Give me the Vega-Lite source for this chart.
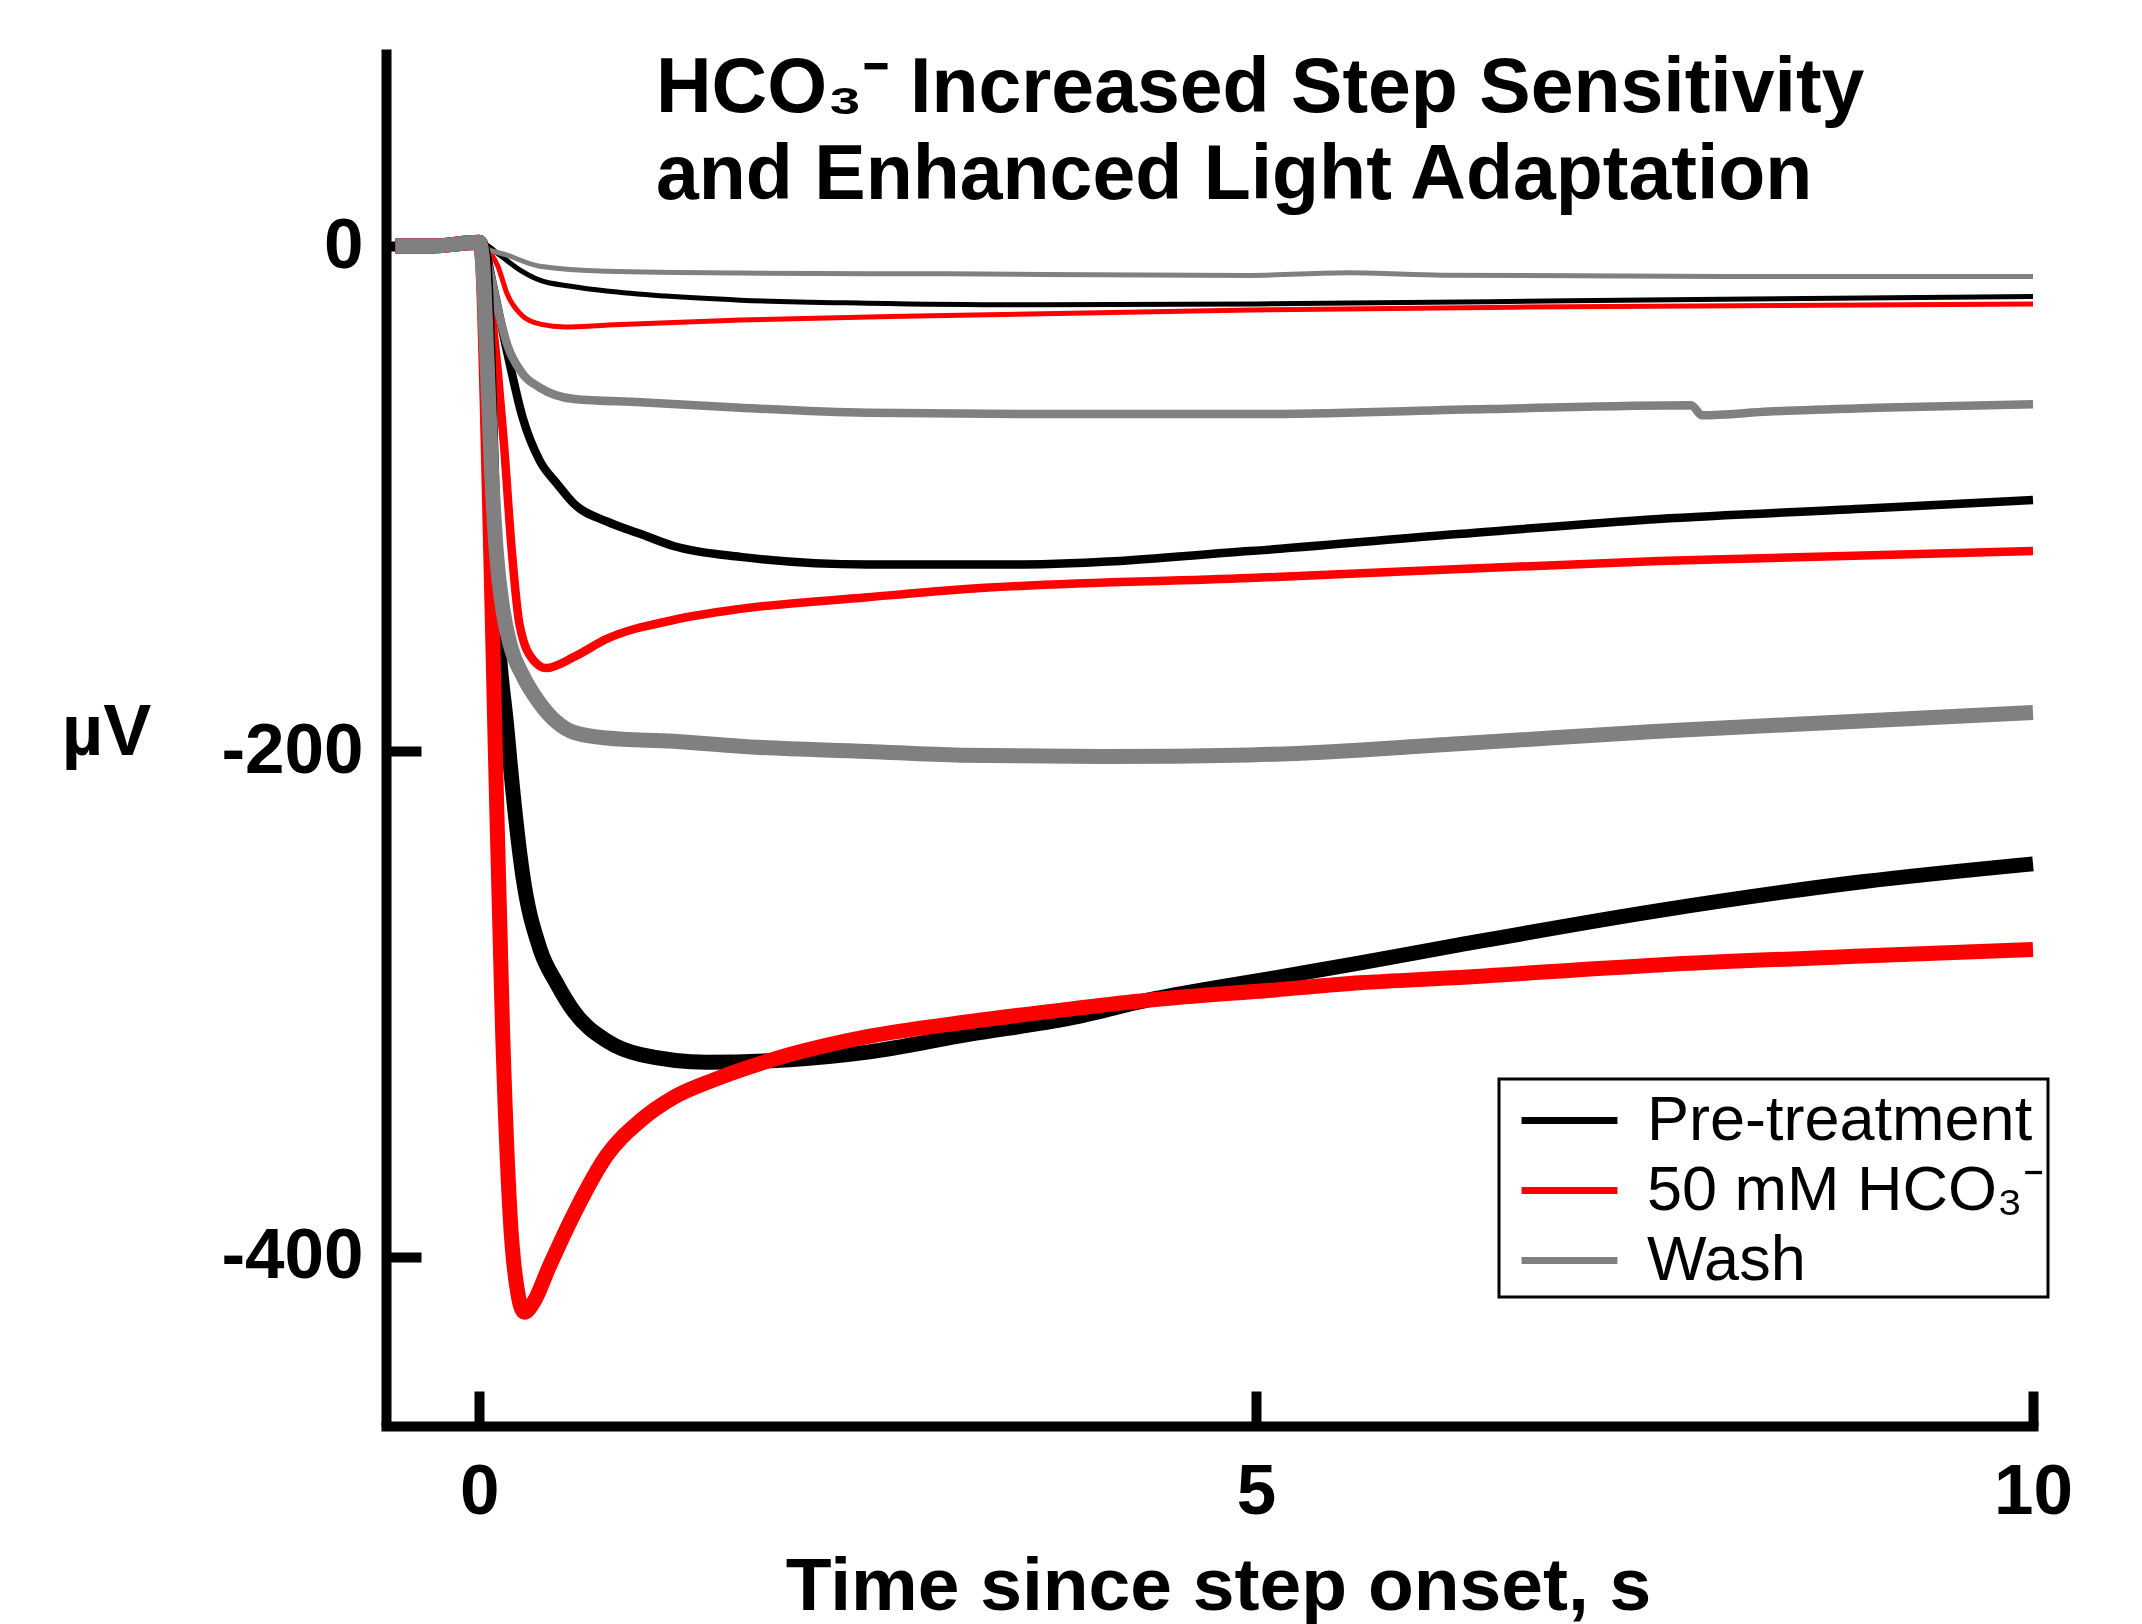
{
  "$schema": "https://vega.github.io/schema/vega-lite/v6.json",
  "autosize": {"type": "none"},
  "width": 1647,
  "height": 1377,
  "padding": {"left": 386, "top": 49, "right": 109, "bottom": 198},
  "background": "white",
  "config": {
    "view": {"stroke": null},
    "font": "Liberation Sans",
    "axis": {
      "grid": false,
      "domainColor": "black",
      "domainWidth": 10,
      "tickColor": "black",
      "tickWidth": 10,
      "tickSize": -35,
      "labelFont": "Liberation Sans",
      "labelFontSize": 71,
      "labelFontWeight": "bold",
      "labelColor": "black",
      "titleFont": "Liberation Sans",
      "titleFontWeight": "bold",
      "titleColor": "black"
    }
  },
  "title": {
    "text": ["HCO₃⁻ Increased Step Sensitivity", "and Enhanced Light Adaptation"],
    "anchor": "start",
    "frame": "group",
    "orient": "top",
    "align": "left",
    "baseline": "top",
    "offset": 0,
    "dx": 270,
    "dy": 166,
    "fontSize": 77,
    "lineHeight": 87,
    "font": "Liberation Sans",
    "fontWeight": "bold",
    "color": "black"
  },
  "data": {
    "values": [
      {"c": "Pre-treatment", "l": "dim", "t": -0.54, "v": 0},
      {"c": "Pre-treatment", "l": "dim", "t": -0.3, "v": 0},
      {"c": "Pre-treatment", "l": "dim", "t": -0.02, "v": 0.5},
      {"c": "Pre-treatment", "l": "dim", "t": 0.02, "v": 1},
      {"c": "Pre-treatment", "l": "dim", "t": 0.12, "v": -3},
      {"c": "Pre-treatment", "l": "dim", "t": 0.25, "v": -9},
      {"c": "Pre-treatment", "l": "dim", "t": 0.39, "v": -13.5},
      {"c": "Pre-treatment", "l": "dim", "t": 0.6, "v": -16},
      {"c": "Pre-treatment", "l": "dim", "t": 0.82, "v": -17.8},
      {"c": "Pre-treatment", "l": "dim", "t": 1.2, "v": -19.8},
      {"c": "Pre-treatment", "l": "dim", "t": 1.68, "v": -21.4},
      {"c": "Pre-treatment", "l": "dim", "t": 2.5, "v": -22.6},
      {"c": "Pre-treatment", "l": "dim", "t": 3.5, "v": -23.2},
      {"c": "Pre-treatment", "l": "dim", "t": 5, "v": -22.9},
      {"c": "Pre-treatment", "l": "dim", "t": 6.5, "v": -22},
      {"c": "Pre-treatment", "l": "dim", "t": 8, "v": -21},
      {"c": "Pre-treatment", "l": "dim", "t": 10, "v": -20},

      {"c": "Pre-treatment", "l": "mid", "t": -0.54, "v": 0},
      {"c": "Pre-treatment", "l": "mid", "t": -0.3, "v": 0},
      {"c": "Pre-treatment", "l": "mid", "t": 0, "v": 1},
      {"c": "Pre-treatment", "l": "mid", "t": 0.04, "v": -2},
      {"c": "Pre-treatment", "l": "mid", "t": 0.09, "v": -16},
      {"c": "Pre-treatment", "l": "mid", "t": 0.18, "v": -42},
      {"c": "Pre-treatment", "l": "mid", "t": 0.28, "v": -68},
      {"c": "Pre-treatment", "l": "mid", "t": 0.39, "v": -85},
      {"c": "Pre-treatment", "l": "mid", "t": 0.5, "v": -94},
      {"c": "Pre-treatment", "l": "mid", "t": 0.61, "v": -102},
      {"c": "Pre-treatment", "l": "mid", "t": 0.82, "v": -109},
      {"c": "Pre-treatment", "l": "mid", "t": 1.04, "v": -114},
      {"c": "Pre-treatment", "l": "mid", "t": 1.25, "v": -118.7},
      {"c": "Pre-treatment", "l": "mid", "t": 1.68, "v": -123},
      {"c": "Pre-treatment", "l": "mid", "t": 2.5, "v": -126},
      {"c": "Pre-treatment", "l": "mid", "t": 3.5, "v": -126},
      {"c": "Pre-treatment", "l": "mid", "t": 4.96, "v": -120.7},
      {"c": "Pre-treatment", "l": "mid", "t": 6.3, "v": -114},
      {"c": "Pre-treatment", "l": "mid", "t": 7.59, "v": -108},
      {"c": "Pre-treatment", "l": "mid", "t": 8.9, "v": -104},
      {"c": "Pre-treatment", "l": "mid", "t": 10, "v": -100.5},

      {"c": "Pre-treatment", "l": "bright", "t": -0.54, "v": 0},
      {"c": "Pre-treatment", "l": "bright", "t": -0.3, "v": 0},
      {"c": "Pre-treatment", "l": "bright", "t": 0, "v": 1.5},
      {"c": "Pre-treatment", "l": "bright", "t": 0.03, "v": -5},
      {"c": "Pre-treatment", "l": "bright", "t": 0.06, "v": -50},
      {"c": "Pre-treatment", "l": "bright", "t": 0.1, "v": -130},
      {"c": "Pre-treatment", "l": "bright", "t": 0.18, "v": -192},
      {"c": "Pre-treatment", "l": "bright", "t": 0.28, "v": -249},
      {"c": "Pre-treatment", "l": "bright", "t": 0.39, "v": -278},
      {"c": "Pre-treatment", "l": "bright", "t": 0.5, "v": -292},
      {"c": "Pre-treatment", "l": "bright", "t": 0.61, "v": -303},
      {"c": "Pre-treatment", "l": "bright", "t": 0.82, "v": -314.5},
      {"c": "Pre-treatment", "l": "bright", "t": 1.04, "v": -320},
      {"c": "Pre-treatment", "l": "bright", "t": 1.47, "v": -323},
      {"c": "Pre-treatment", "l": "bright", "t": 2.0, "v": -322},
      {"c": "Pre-treatment", "l": "bright", "t": 2.5, "v": -319},
      {"c": "Pre-treatment", "l": "bright", "t": 3.15, "v": -312},
      {"c": "Pre-treatment", "l": "bright", "t": 3.8, "v": -305.6},
      {"c": "Pre-treatment", "l": "bright", "t": 4.3, "v": -298.5},
      {"c": "Pre-treatment", "l": "bright", "t": 5.12, "v": -289.6},
      {"c": "Pre-treatment", "l": "bright", "t": 5.67, "v": -283.7},
      {"c": "Pre-treatment", "l": "bright", "t": 6.27, "v": -277},
      {"c": "Pre-treatment", "l": "bright", "t": 7.59, "v": -263},
      {"c": "Pre-treatment", "l": "bright", "t": 8.9, "v": -251.6},
      {"c": "Pre-treatment", "l": "bright", "t": 10, "v": -244.5},

      {"c": "50 mM HCO₃⁻", "l": "dim", "t": -0.54, "v": 0},
      {"c": "50 mM HCO₃⁻", "l": "dim", "t": -0.3, "v": 0},
      {"c": "50 mM HCO₃⁻", "l": "dim", "t": 0, "v": 1.5},
      {"c": "50 mM HCO₃⁻", "l": "dim", "t": 0.05, "v": -1},
      {"c": "50 mM HCO₃⁻", "l": "dim", "t": 0.12, "v": -8},
      {"c": "50 mM HCO₃⁻", "l": "dim", "t": 0.18, "v": -19},
      {"c": "50 mM HCO₃⁻", "l": "dim", "t": 0.28, "v": -27.7},
      {"c": "50 mM HCO₃⁻", "l": "dim", "t": 0.4, "v": -31},
      {"c": "50 mM HCO₃⁻", "l": "dim", "t": 0.55, "v": -32},
      {"c": "50 mM HCO₃⁻", "l": "dim", "t": 0.82, "v": -31.3},
      {"c": "50 mM HCO₃⁻", "l": "dim", "t": 1.68, "v": -29.3},
      {"c": "50 mM HCO₃⁻", "l": "dim", "t": 3, "v": -27.5},
      {"c": "50 mM HCO₃⁻", "l": "dim", "t": 4.96, "v": -25.3},
      {"c": "50 mM HCO₃⁻", "l": "dim", "t": 7, "v": -24},
      {"c": "50 mM HCO₃⁻", "l": "dim", "t": 10, "v": -22.9},

      {"c": "50 mM HCO₃⁻", "l": "mid", "t": -0.54, "v": 0},
      {"c": "50 mM HCO₃⁻", "l": "mid", "t": -0.3, "v": 0},
      {"c": "50 mM HCO₃⁻", "l": "mid", "t": 0, "v": 1.5},
      {"c": "50 mM HCO₃⁻", "l": "mid", "t": 0.03, "v": -2},
      {"c": "50 mM HCO₃⁻", "l": "mid", "t": 0.07, "v": -22},
      {"c": "50 mM HCO₃⁻", "l": "mid", "t": 0.12, "v": -50},
      {"c": "50 mM HCO₃⁻", "l": "mid", "t": 0.16, "v": -79},
      {"c": "50 mM HCO₃⁻", "l": "mid", "t": 0.21, "v": -121},
      {"c": "50 mM HCO₃⁻", "l": "mid", "t": 0.26, "v": -150},
      {"c": "50 mM HCO₃⁻", "l": "mid", "t": 0.35, "v": -164},
      {"c": "50 mM HCO₃⁻", "l": "mid", "t": 0.43, "v": -167},
      {"c": "50 mM HCO₃⁻", "l": "mid", "t": 0.61, "v": -162.6},
      {"c": "50 mM HCO₃⁻", "l": "mid", "t": 0.82, "v": -155.5},
      {"c": "50 mM HCO₃⁻", "l": "mid", "t": 1.25, "v": -148},
      {"c": "50 mM HCO₃⁻", "l": "mid", "t": 1.68, "v": -143.6},
      {"c": "50 mM HCO₃⁻", "l": "mid", "t": 2.5, "v": -139},
      {"c": "50 mM HCO₃⁻", "l": "mid", "t": 3.07, "v": -136},
      {"c": "50 mM HCO₃⁻", "l": "mid", "t": 4.96, "v": -131.4},
      {"c": "50 mM HCO₃⁻", "l": "mid", "t": 7.59, "v": -124.6},
      {"c": "50 mM HCO₃⁻", "l": "mid", "t": 10, "v": -120.7},

      {"c": "50 mM HCO₃⁻", "l": "bright", "t": -0.54, "v": 0},
      {"c": "50 mM HCO₃⁻", "l": "bright", "t": -0.3, "v": 0},
      {"c": "50 mM HCO₃⁻", "l": "bright", "t": 0, "v": 1.5},
      {"c": "50 mM HCO₃⁻", "l": "bright", "t": 0.02, "v": -5},
      {"c": "50 mM HCO₃⁻", "l": "bright", "t": 0.05, "v": -60},
      {"c": "50 mM HCO₃⁻", "l": "bright", "t": 0.1, "v": -190},
      {"c": "50 mM HCO₃⁻", "l": "bright", "t": 0.15, "v": -310},
      {"c": "50 mM HCO₃⁻", "l": "bright", "t": 0.2, "v": -385},
      {"c": "50 mM HCO₃⁻", "l": "bright", "t": 0.25, "v": -415},
      {"c": "50 mM HCO₃⁻", "l": "bright", "t": 0.29, "v": -422},
      {"c": "50 mM HCO₃⁻", "l": "bright", "t": 0.35, "v": -418},
      {"c": "50 mM HCO₃⁻", "l": "bright", "t": 0.45, "v": -404},
      {"c": "50 mM HCO₃⁻", "l": "bright", "t": 0.61, "v": -383},
      {"c": "50 mM HCO₃⁻", "l": "bright", "t": 0.82, "v": -360},
      {"c": "50 mM HCO₃⁻", "l": "bright", "t": 1.04, "v": -346},
      {"c": "50 mM HCO₃⁻", "l": "bright", "t": 1.25, "v": -337},
      {"c": "50 mM HCO₃⁻", "l": "bright", "t": 1.51, "v": -330},
      {"c": "50 mM HCO₃⁻", "l": "bright", "t": 2.0, "v": -320},
      {"c": "50 mM HCO₃⁻", "l": "bright", "t": 2.49, "v": -313},
      {"c": "50 mM HCO₃⁻", "l": "bright", "t": 3.15, "v": -307},
      {"c": "50 mM HCO₃⁻", "l": "bright", "t": 3.8, "v": -302},
      {"c": "50 mM HCO₃⁻", "l": "bright", "t": 4.3, "v": -298.5},
      {"c": "50 mM HCO₃⁻", "l": "bright", "t": 5.12, "v": -294.4},
      {"c": "50 mM HCO₃⁻", "l": "bright", "t": 5.67, "v": -291.6},
      {"c": "50 mM HCO₃⁻", "l": "bright", "t": 6.27, "v": -289.6},
      {"c": "50 mM HCO₃⁻", "l": "bright", "t": 7.59, "v": -284.5},
      {"c": "50 mM HCO₃⁻", "l": "bright", "t": 8.9, "v": -281},
      {"c": "50 mM HCO₃⁻", "l": "bright", "t": 10, "v": -278.4},

      {"c": "Wash", "l": "dim", "t": -0.54, "v": 0},
      {"c": "Wash", "l": "dim", "t": -0.3, "v": 0},
      {"c": "Wash", "l": "dim", "t": 0, "v": 1},
      {"c": "Wash", "l": "dim", "t": 0.05, "v": -1},
      {"c": "Wash", "l": "dim", "t": 0.18, "v": -3.6},
      {"c": "Wash", "l": "dim", "t": 0.39, "v": -8},
      {"c": "Wash", "l": "dim", "t": 0.82, "v": -10},
      {"c": "Wash", "l": "dim", "t": 1.68, "v": -10.7},
      {"c": "Wash", "l": "dim", "t": 3, "v": -11},
      {"c": "Wash", "l": "dim", "t": 4.96, "v": -11.6},
      {"c": "Wash", "l": "dim", "t": 5.6, "v": -10.6},
      {"c": "Wash", "l": "dim", "t": 6.2, "v": -11.5},
      {"c": "Wash", "l": "dim", "t": 8, "v": -12},
      {"c": "Wash", "l": "dim", "t": 10, "v": -12},

      {"c": "Wash", "l": "mid", "t": -0.54, "v": 0},
      {"c": "Wash", "l": "mid", "t": -0.3, "v": 0},
      {"c": "Wash", "l": "mid", "t": 0, "v": 1},
      {"c": "Wash", "l": "mid", "t": 0.03, "v": -2},
      {"c": "Wash", "l": "mid", "t": 0.07, "v": -10.7},
      {"c": "Wash", "l": "mid", "t": 0.12, "v": -25},
      {"c": "Wash", "l": "mid", "t": 0.18, "v": -39},
      {"c": "Wash", "l": "mid", "t": 0.28, "v": -50.6},
      {"c": "Wash", "l": "mid", "t": 0.39, "v": -56},
      {"c": "Wash", "l": "mid", "t": 0.61, "v": -60.5},
      {"c": "Wash", "l": "mid", "t": 1.04, "v": -61.8},
      {"c": "Wash", "l": "mid", "t": 1.68, "v": -64},
      {"c": "Wash", "l": "mid", "t": 2.5, "v": -66},
      {"c": "Wash", "l": "mid", "t": 3.5, "v": -66.5},
      {"c": "Wash", "l": "mid", "t": 4.96, "v": -66.5},
      {"c": "Wash", "l": "mid", "t": 6.5, "v": -64.5},
      {"c": "Wash", "l": "mid", "t": 7.8, "v": -63},
      {"c": "Wash", "l": "mid", "t": 7.87, "v": -67},
      {"c": "Wash", "l": "mid", "t": 8.3, "v": -65.5},
      {"c": "Wash", "l": "mid", "t": 9, "v": -64},
      {"c": "Wash", "l": "mid", "t": 10, "v": -62.6},

      {"c": "Wash", "l": "bright", "t": -0.54, "v": 0},
      {"c": "Wash", "l": "bright", "t": -0.3, "v": 0},
      {"c": "Wash", "l": "bright", "t": 0, "v": 1.5},
      {"c": "Wash", "l": "bright", "t": 0.02, "v": -5},
      {"c": "Wash", "l": "bright", "t": 0.05, "v": -45},
      {"c": "Wash", "l": "bright", "t": 0.08, "v": -90},
      {"c": "Wash", "l": "bright", "t": 0.11, "v": -121},
      {"c": "Wash", "l": "bright", "t": 0.15, "v": -143},
      {"c": "Wash", "l": "bright", "t": 0.2, "v": -158},
      {"c": "Wash", "l": "bright", "t": 0.28, "v": -170},
      {"c": "Wash", "l": "bright", "t": 0.39, "v": -181},
      {"c": "Wash", "l": "bright", "t": 0.61, "v": -192.5},
      {"c": "Wash", "l": "bright", "t": 0.82, "v": -194.7},
      {"c": "Wash", "l": "bright", "t": 1.25, "v": -196},
      {"c": "Wash", "l": "bright", "t": 1.68, "v": -198},
      {"c": "Wash", "l": "bright", "t": 2.5, "v": -200},
      {"c": "Wash", "l": "bright", "t": 3.1, "v": -201.5},
      {"c": "Wash", "l": "bright", "t": 4, "v": -202},
      {"c": "Wash", "l": "bright", "t": 4.96, "v": -201.4},
      {"c": "Wash", "l": "bright", "t": 6.3, "v": -197},
      {"c": "Wash", "l": "bright", "t": 7.59, "v": -192},
      {"c": "Wash", "l": "bright", "t": 8.9, "v": -188},
      {"c": "Wash", "l": "bright", "t": 10, "v": -184.6}
    ]
  },
  "encoding": {
    "x": {
      "field": "t",
      "type": "quantitative",
      "scale": {"domain": [-0.6, 10], "nice": false, "zero": false},
      "axis": {
        "values": [0, 5, 10],
        "labelExpr": "'' + datum.value",
        "title": "Time since step onset, s",
        "titleFontSize": 75,
        "titleX": 832,
        "titleY": 183,
        "titleBaseline": "alphabetic",
        "titleAlign": "center",
        "labelPadding": 66,
        "labelFlush": false,
        "labelOverlap": false,
        "domainCap": "square"
      }
    },
    "y": {
      "field": "v",
      "type": "quantitative",
      "scale": {"domain": [-467, 78], "nice": false, "zero": false},
      "axis": {
        "values": [0, -200, -400],
        "labelExpr": "'' + datum.value",
        "title": "µV",
        "titleFontSize": 72,
        "titleAngle": 0,
        "titleX": -280,
        "titleY": 705,
        "titleAlign": "center",
        "titleBaseline": "alphabetic",
        "labelPadding": 58,
        "labelFlush": false,
        "labelOverlap": false,
        "domainCap": "butt"
      }
    },
    "color": {
      "field": "c",
      "type": "nominal",
      "scale": {
        "domain": ["Pre-treatment", "50 mM HCO₃⁻", "Wash"],
        "range": ["#000000", "#ff0000", "#808080"]
      },
      "legend": {
        "title": null,
        "orient": "none",
        "legendX": 1113,
        "legendY": 1030,
        "padding": 4,
        "rowPadding": 0,
        "symbolType": "M-1.41,0H1.41",
        "symbolSize": 4624,
        "symbolStrokeWidth": 7,
        "symbolOffset": 29,
        "labelFont": "Liberation Sans",
        "labelFontSize": 63,
        "labelColor": "black",
        "labelOffset": 40,
        "labelLimit": 0,
        "strokeColor": "black",
        "encode": {"legend": {"update": {"strokeWidth": {"value": 3}}}}
      }
    }
  },
  "layer": [
    {
      "transform": [{"filter": "datum.l === 'dim'"}],
      "mark": {"type": "line", "interpolate": "monotone", "strokeJoin": "round", "strokeWidth": 5}
    },
    {
      "transform": [{"filter": "datum.l === 'mid'"}],
      "mark": {"type": "line", "interpolate": "monotone", "strokeJoin": "round", "strokeWidth": 8.5}
    },
    {
      "transform": [{"filter": "datum.l === 'bright'"}],
      "mark": {"type": "line", "interpolate": "monotone", "strokeJoin": "round", "strokeWidth": 15}
    }
  ]
}
